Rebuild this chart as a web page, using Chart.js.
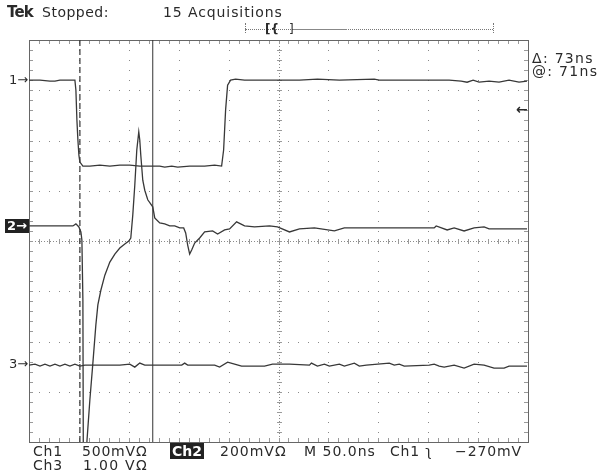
<!DOCTYPE html>
<html>
<head>
<meta charset="utf-8">
<script src="https://cdn.jsdelivr.net/npm/chart.js@4.4.0/dist/chart.umd.min.js"></script>
<style>
  body { margin: 0; background: #fff; }
  #wrap { position: relative; width: 599px; height: 475px; background: #fff; overflow: hidden; }
  #scope { position: absolute; left: 0; top: 0; }
  .t { position: absolute; white-space: pre; color: #2a2a2a; font-family: "DejaVu Sans", sans-serif; font-size: 14px; line-height: 14px; }
  .inv { background: #222; color: #fff; }
  .dot { position: absolute; border-color: #777; border-style: dotted; border-width: 0; }
</style>
</head>
<body>
<div id="wrap">
  <canvas id="scope" width="599" height="475"></canvas>

  <div class="t" style="left:7px;top:5px;font-size:15px;line-height:15px;font-weight:bold;letter-spacing:-0.8px;">Tek</div>
  <div class="t" style="left:42px;top:5px;letter-spacing:0.5px;">Stopped:</div>
  <div class="t" style="left:163px;top:5px;letter-spacing:0.9px;">15 Acquisitions</div>

  <div class="dot" style="left:245px;top:29px;width:248px;border-top-width:1px;"></div>
  <div style="position:absolute;left:293px;top:29px;width:54px;border-top:1px solid #888;"></div>
  <div class="dot" style="left:245px;top:23px;height:10px;border-left-width:1px;"></div>
  <div class="dot" style="left:493px;top:23px;height:10px;border-left-width:1px;"></div>
  <div class="t" style="left:265px;top:22px;font-size:12px;font-weight:bold;">[{</div>
  <div class="t" style="left:289px;top:22px;font-size:12px;">]</div>

  <div class="t" style="left:532px;top:51px;letter-spacing:1.3px;">Δ: 73ns</div>
  <div class="t" style="left:532px;top:64px;letter-spacing:1.3px;">@: 71ns</div>
  <div class="t" style="left:516px;top:102px;font-weight:bold;">←</div>

  <div class="t" style="left:9px;top:73px;font-size:13px;">1→</div>
  <div class="t inv" style="left:5px;top:219px;padding:0 2px;font-size:13px;font-weight:bold;">2→</div>
  <div class="t" style="left:9px;top:357px;font-size:13px;">3→</div>

  <div class="t" style="left:33px;top:444px;letter-spacing:0.8px;">Ch1</div>
  <div class="t" style="left:82px;top:444px;letter-spacing:0.8px;">500mVΩ</div>
  <div class="t inv" style="left:170px;top:443px;padding:1px 2px;font-weight:bold;">Ch2</div>
  <div class="t" style="left:220px;top:444px;letter-spacing:1px;">200mVΩ</div>
  <div class="t" style="left:304px;top:444px;letter-spacing:1px;">M 50.0ns</div>
  <div class="t" style="left:390px;top:444px;letter-spacing:0.8px;">Ch1 ʅ</div>
  <div class="t" style="left:455px;top:444px;letter-spacing:0.9px;">−270mV</div>
  <div class="t" style="left:33px;top:458px;letter-spacing:0.8px;">Ch3</div>
  <div class="t" style="left:83px;top:458px;letter-spacing:1.3px;">1.00 VΩ</div>
</div>

<script>
// time in ns from the left edge of the screen, level in screen divisions from centre
var ch1T = [0, 11, 21, 26, 31, 41, 46, 47, 48, 49, 50, 51, 54, 61, 71, 81, 91, 101, 111, 121, 131, 136, 143, 149, 161, 176, 186, 193,
            195, 197, 199, 202, 207, 216, 231, 271, 289, 311, 346, 351, 421, 433, 439, 445, 451, 461, 471, 481, 491, 499];
var ch1V = [3.20, 3.20, 3.18, 3.18, 3.20, 3.20, 3.20, 3.00, 2.41, 2.01, 1.71, 1.57, 1.49, 1.49, 1.51, 1.49, 1.51, 1.51, 1.49, 1.49, 1.49, 1.47, 1.49, 1.47, 1.49, 1.49, 1.51, 1.49,
            1.81, 2.61, 3.10, 3.20, 3.22, 3.20, 3.20, 3.20, 3.22, 3.20, 3.22, 3.20, 3.20, 3.18, 3.16, 3.20, 3.16, 3.18, 3.16, 3.20, 3.16, 3.18];

var ch2T = [0, 21, 44, 47, 50, 52, 53, 54, 54.5, 57, 58, 61, 64, 67, 69, 72, 76, 81, 86, 91, 96, 100, 102, 104, 106, 108, 110, 111, 112,
            114, 116, 119, 124, 126, 131, 136, 141, 146, 151, 155, 157, 159, 161, 163, 166, 171, 176, 184, 189, 196, 201, 208, 216, 226,
            241, 249, 261, 271, 286, 306, 316, 406, 408, 419, 426, 436, 446, 456, 461, 499];
var ch2V = [0.30, 0.30, 0.30, 0.34, 0.28, 0.18, 0.02, -1.17, -4.76, -4.76, -4.00, -3.16, -2.43, -1.67, -1.27, -0.98, -0.68, -0.42, -0.26, -0.14, -0.06, 0.00, 0.06, 0.52, 1.11, 1.81, 2.17, 2.01, 1.71,
            1.21, 1.01, 0.82, 0.68, 0.46, 0.36, 0.34, 0.30, 0.30, 0.26, 0.26, 0.16, -0.08, -0.26, -0.18, -0.04, 0.06, 0.18, 0.20, 0.14, 0.22, 0.24, 0.38, 0.30, 0.28,
            0.30, 0.28, 0.18, 0.24, 0.26, 0.20, 0.26, 0.26, 0.30, 0.22, 0.26, 0.20, 0.26, 0.28, 0.24, 0.24];

var ch3T = [0, 6, 11, 16, 21, 26, 31, 36, 41, 46, 51, 56, 71, 91, 101, 106, 111, 116, 153, 156, 159, 186, 191, 199, 206, 213, 236, 244,
            261, 281, 283, 289, 296, 301, 311, 316, 326, 331, 338, 361, 366, 371, 376, 401, 406, 411, 416, 426, 436, 446, 456, 466, 476, 481, 499];
var ch3V = [-2.47, -2.45, -2.49, -2.45, -2.49, -2.45, -2.49, -2.45, -2.49, -2.45, -2.49, -2.47, -2.47, -2.47, -2.45, -2.51, -2.43, -2.47, -2.47, -2.43, -2.47, -2.47, -2.51, -2.41, -2.45, -2.49, -2.49, -2.45,
            -2.45, -2.47, -2.43, -2.49, -2.45, -2.49, -2.45, -2.49, -2.43, -2.49, -2.47, -2.43, -2.47, -2.45, -2.49, -2.47, -2.45, -2.49, -2.51, -2.47, -2.53, -2.45, -2.47, -2.53, -2.53, -2.49, -2.49];

// cursor positions (ns)
var cursorA = 51;
var cursorB = 124;

var xDivs = 10, yDivs = 8, nsPerDiv = 50;

function pts(t, v) {
    return t.map(function (x, i) { return {x: x, y: v[i]}; });
}

var trace = {borderColor: '#383838', borderWidth: 1.3, pointRadius: 0, tension: 0, fill: false};

var graticule = {
    id: 'graticule',
    beforeDatasetsDraw: function (chart) {
        var ctx = chart.ctx, xs = chart.scales.x, ys = chart.scales.y;
        var a = chart.chartArea;
        ctx.save();
        ctx.fillStyle = '#8a8a8a';
        // dotted division lines
        for (var i = 1; i < xDivs; i++) {
            var px = Math.round(xs.getPixelForValue(i * nsPerDiv));
            for (var j = 0; j <= yDivs * 5; j++) {
                var py = Math.round(ys.getPixelForValue(-4 + j / 5));
                ctx.fillRect(px, py, 1, 1);
            }
        }
        for (var j = 1; j < yDivs; j++) {
            var py = Math.round(ys.getPixelForValue(-4 + j));
            for (var i = 0; i <= xDivs * 5; i++) {
                var px = Math.round(xs.getPixelForValue(i * nsPerDiv / 5));
                ctx.fillRect(px, py, 1, 1);
            }
        }
        // centre lines with minor ticks
        var cx = Math.round(xs.getPixelForValue(xDivs / 2 * nsPerDiv));
        var cy = Math.round(ys.getPixelForValue(0));
        for (var y = a.top; y < a.bottom; y += 3) ctx.fillRect(cx, y, 1, 1);
        for (var x = a.left; x < a.right; x += 3) ctx.fillRect(x, cy, 1, 1);
        ctx.fillStyle = '#9a9a9a';
        for (var i = 0; i <= xDivs * 5; i++) {
            var px = Math.round(xs.getPixelForValue(i * nsPerDiv / 5));
            ctx.fillRect(px, cy - 2, 1, 5);
            ctx.fillRect(px, a.top, 1, 4);
            ctx.fillRect(px, a.bottom - 4, 1, 4);
        }
        for (var j = 0; j <= yDivs * 5; j++) {
            var py = Math.round(ys.getPixelForValue(-4 + j / 5));
            ctx.fillRect(cx - 2, py, 5, 1);
            ctx.fillRect(a.left, py, 4, 1);
            ctx.fillRect(a.right - 4, py, 4, 1);
        }
        // frame
        ctx.strokeStyle = '#666';
        ctx.lineWidth = 1;
        ctx.strokeRect(a.left + 0.5, a.top + 0.5, a.right - a.left, a.bottom - a.top);
        ctx.restore();
    }
};

new Chart(document.getElementById('scope'), {
    type: 'line',
    data: {
        datasets: [
            Object.assign({label: 'Ch1', data: pts(ch1T, ch1V)}, trace),
            Object.assign({label: 'Ch2', data: pts(ch2T, ch2V)}, trace),
            Object.assign({label: 'Ch3', data: pts(ch3T, ch3V)}, trace),
            {label: 'cursor1', data: [{x: cursorA, y: -4}, {x: cursorA, y: 4}], borderColor: '#333', borderWidth: 1.2, borderDash: [6, 3], pointRadius: 0},
            {label: 'cursor2', data: [{x: cursorB, y: -4}, {x: cursorB, y: 4}], borderColor: '#333', borderWidth: 1, pointRadius: 0}
        ]
    },
    options: {
        responsive: false,
        animation: false,
        events: [],
        layout: {padding: {left: 29, top: 40, right: 71, bottom: 33}},
        scales: {
            x: {type: 'linear', min: 0, max: xDivs * nsPerDiv, display: false},
            y: {type: 'linear', min: -4, max: 4, display: false}
        },
        plugins: {legend: {display: false}, tooltip: {enabled: false}}
    },
    plugins: [graticule]
});
</script>
</body>
</html>
